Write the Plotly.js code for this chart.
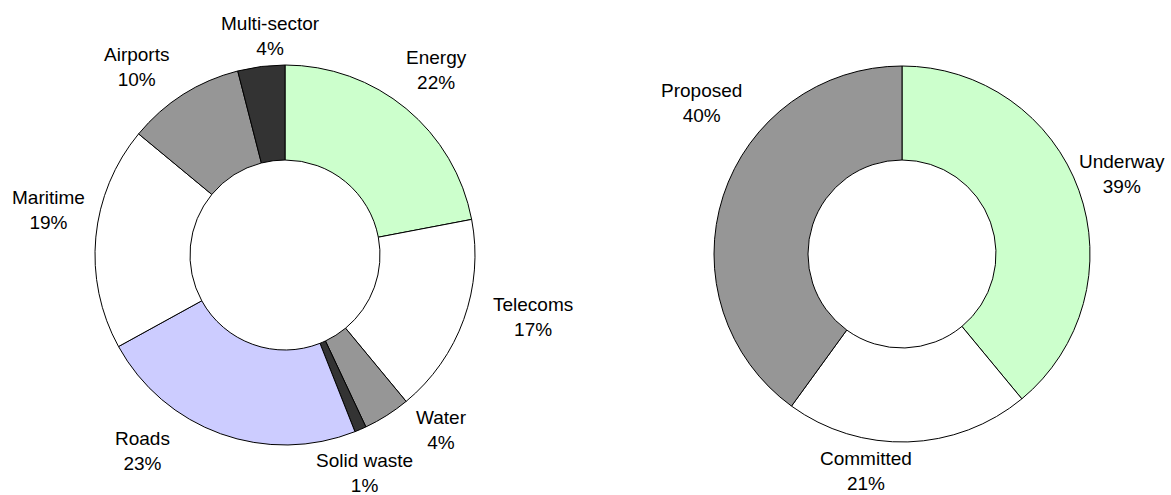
<!DOCTYPE html>
<html>
<head>
<meta charset="utf-8">
<script src="https://cdn.plot.ly/plotly-3.0.1.min.js"></script>
<style>html,body{margin:0;padding:0;background:#fff;}#chart{width:1171px;height:495px;}</style>
</head>
<body>
<div id="chart"></div>
<script>
const sectorLabels = ["Energy", "Telecoms", "Water", "Solid waste", "Roads", "Maritime", "Airports", "Multi-sector"];
const sectorValues = [22, 17, 4, 1, 23, 19, 10, 4];
const sectorColors = ["#CCFFCC", "#FFFFFF", "#969696", "#333333", "#CCCCFF", "#FFFFFF", "#969696", "#333333"];

const statusLabels = ["Underway", "Committed", "Proposed"];
const statusValues = [39, 21, 40];
const statusColors = ["#CCFFCC", "#FFFFFF", "#969696"];

// Label placement (pixel offsets of each label box centre from its doughnut centre),
// as the labels were hand-placed in the original chart
const sectorLabelOffsets = [[151, -185], [248, 62], [156, 175], [79, 218], [-143, 196], [-236, -45], [-149, -188], [-15, -219]];
const statusLabelOffsets = [[220, -80], [-36, 217], [-201, -151]];

const W = 1171, H = 495;
const font = {family: "Liberation Sans, Arial, sans-serif", size: 19, color: "#000"};

const leftDomain = {x: [95 / W, 475 / W], y: [50 / H, 430 / H]};
const rightDomain = {x: [714 / W, 1090 / W], y: [53 / H, 429 / H]};

function pieTrace(labels, values, colors, domain) {
  return {
    type: "pie", labels: labels, values: values, sort: false,
    direction: "clockwise", rotation: 0, hole: 0.5,
    marker: {colors: colors, line: {color: "#000", width: 1}},
    textinfo: "none", hoverinfo: "none", showlegend: false,
    domain: domain
  };
}

function pieLabels(labels, values, offsets, domain) {
  const total = values.reduce((a, b) => a + b, 0);
  const cx = (domain.x[0] + domain.x[1]) / 2;
  const cy = (domain.y[0] + domain.y[1]) / 2;
  return labels.map((lab, i) => ({
    xref: "paper", yref: "paper",
    x: cx + offsets[i][0] / W,
    y: cy - offsets[i][1] / H,
    xanchor: "center", yanchor: "middle",
    text: lab + "<br>" + Math.round(values[i] / total * 100) + "%",
    showarrow: false, font: font, align: "center"
  }));
}

const traces = [
  pieTrace(sectorLabels, sectorValues, sectorColors, leftDomain),
  pieTrace(statusLabels, statusValues, statusColors, rightDomain)
];

const layout = {
  width: W, height: H,
  margin: {l: 0, r: 0, t: 0, b: 0},
  paper_bgcolor: "#fff", plot_bgcolor: "#fff",
  font: font, showlegend: false,
  annotations: pieLabels(sectorLabels, sectorValues, sectorLabelOffsets, leftDomain)
    .concat(pieLabels(statusLabels, statusValues, statusLabelOffsets, rightDomain))
};

Plotly.newPlot("chart", traces, layout, {staticPlot: true, displayModeBar: false});
</script>
</body>
</html>
